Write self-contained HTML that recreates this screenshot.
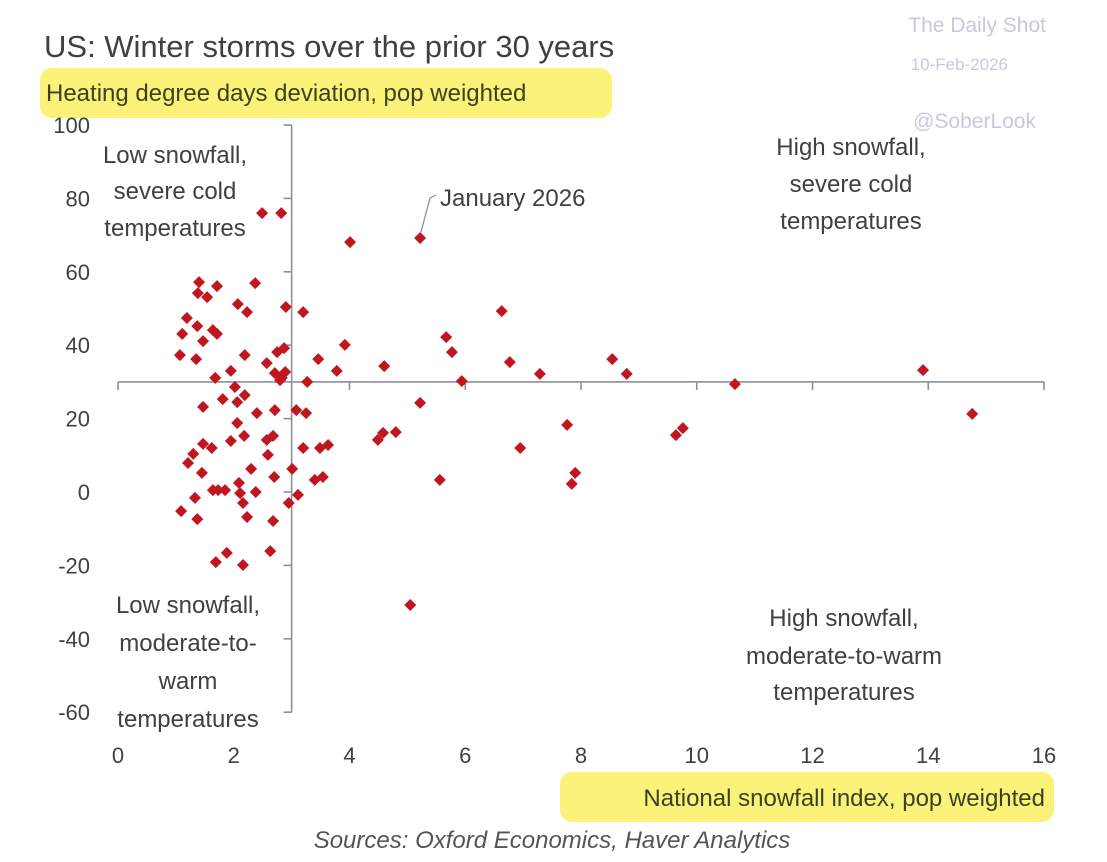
<!DOCTYPE html>
<html><head><meta charset="utf-8"><style>
body{margin:0;background:#fff;}
svg{display:block;font-family:"Liberation Sans",sans-serif;}
</style></head><body>
<svg id="c" width="1107" height="862" viewBox="0 0 1107 862">
<rect x="40" y="68" width="572" height="50" rx="12" fill="#fbf27a"/>
<rect x="560" y="772" width="494" height="50" rx="12" fill="#fbf27a"/>
<text x="44" y="57" font-size="31" fill="#404040">US: Winter storms over the prior 30 years</text>
<text x="46" y="101" font-size="24" fill="#404020">Heating degree days deviation, pop weighted</text>
<text x="1046" y="32" font-size="21" fill="#c8c8e0" text-anchor="end">The Daily Shot</text>
<text x="1008" y="70" font-size="17" fill="#c8c8e0" text-anchor="end">10-Feb-2026</text>
<text x="1036" y="128" font-size="21" fill="#c8c8e0" text-anchor="end">@SoberLook</text>
<g id="axes"></g>
<g id="pts"></g>
<g font-size="24" fill="#404040" text-anchor="middle">
<text x="175" y="163">Low snowfall,</text><text x="175" y="199">severe cold</text><text x="175" y="236">temperatures</text>
<text x="851" y="155">High snowfall,</text><text x="851" y="192">severe cold</text><text x="851" y="229">temperatures</text>
<text x="188" y="613">Low snowfall,</text><text x="188" y="651">moderate-to-</text><text x="188" y="689">warm</text><text x="188" y="727">temperatures</text>
<text x="844" y="626">High snowfall,</text><text x="844" y="664">moderate-to-warm</text><text x="844" y="700">temperatures</text>
</g>
<text x="440" y="206" font-size="24" fill="#404040">January 2026</text>
<polyline points="421,232 430,198 436,195" fill="none" stroke="#888" stroke-width="1.2"/>
<text x="1045" y="806" font-size="24" fill="#404020" text-anchor="end">National snowfall index, pop weighted</text>
<text x="552" y="848" font-size="24" font-style="italic" fill="#555" text-anchor="middle">Sources: Oxford Economics, Haver Analytics</text>
</svg>
<script>
const xTicks=[0,2,4,6,8,10,12,14,16];
const yTicks=[100,80,60,40,20,0,-20,-40,-60];
const snowfall=[2.49,2.82,4.01,1.40,1.71,2.37,1.38,1.54,2.07,2.23,2.90,3.20,1.19,1.37,1.11,1.64,1.71,1.47,3.92,1.07,1.35,2.19,2.57,2.75,2.87,3.46,3.78,1.95,1.68,2.71,2.89,2.83,3.27,2.02,2.80,1.81,2.19,2.06,1.47,2.40,2.71,3.08,3.25,2.06,2.18,1.95,1.47,1.62,2.57,2.68,3.20,3.49,3.63,1.30,1.21,2.59,1.45,2.30,2.70,3.01,3.40,3.54,1.73,1.85,1.64,2.09,2.11,2.38,1.33,2.16,3.11,2.95,1.09,1.37,2.23,2.68,2.63,1.88,1.69,2.16,5.22,4.60,4.49,4.58,4.80,5.22,5.05,5.56,5.67,5.77,5.94,6.63,6.77,6.95,7.29,7.76,7.90,7.84,8.54,8.79,9.64,9.76,10.66,13.91,14.76];
const hddDeviation=[76.0,76.0,68.1,57.2,56.1,56.9,54.2,53.1,51.2,49.0,50.4,49.0,47.4,45.2,43.1,44.1,43.1,41.1,40.1,37.3,36.2,37.3,35.1,38.1,39.2,36.2,33.0,33.0,31.1,32.4,32.7,31.1,30.0,28.6,30.5,25.3,26.4,24.5,23.2,21.5,22.3,22.3,21.5,18.8,15.3,13.9,13.1,12.0,14.2,15.3,12.0,12.0,12.8,10.4,7.9,10.1,5.2,6.3,4.1,6.3,3.3,4.1,0.5,0.5,0.5,2.5,-0.3,0,-1.6,-3.0,-0.8,-3.0,-5.2,-7.4,-6.8,-7.9,-16.1,-16.6,-19.1,-19.9,69.2,34.3,14.2,16.1,16.3,24.3,-30.8,3.3,42.2,38.1,30.2,49.3,35.4,12.0,32.2,18.3,5.2,2.2,36.2,32.2,15.5,17.4,29.4,33.2,21.3];
const NS='http://www.w3.org/2000/svg';
const X=v=>118+v*(1044-118)/16;
const Y=v=>492-v*(492-125)/100;
function mk(t,a,p){const e=document.createElementNS(NS,t);for(const k in a)e.setAttribute(k,a[k]);p.appendChild(e);return e;}
const ax=document.getElementById('axes');
const yAx=mk('line',{x1:X(3),x2:X(3),y1:Y(100),y2:Y(-60),stroke:'#8c9099','stroke-width':1.6},ax);


const xAx=mk('line',{x1:X(0),x2:X(16),y1:Y(30),y2:Y(30),stroke:'#8c9099','stroke-width':1.6},ax);


yTicks.forEach(v=>{
  const t=mk('line',{x1:X(3)-8,x2:X(3),y1:Y(v),y2:Y(v),stroke:'#8c9099','stroke-width':1.6},ax);
  
  
  const l=mk('text',{x:90,y:Y(v)+8,'font-size':22,fill:'#404040','text-anchor':'end'},ax);
  l.textContent=v;
  
  
});
xTicks.forEach(v=>{
  const t=mk('line',{x1:X(v),x2:X(v),y1:Y(30),y2:Y(30)+8,stroke:'#8c9099','stroke-width':1.6},ax);
  
  
  const l=mk('text',{x:X(v),y:763,'font-size':22,fill:'#404040','text-anchor':'middle'},ax);
  l.textContent=v;
  
  
});
const pg=document.getElementById('pts');
snowfall.forEach((s,i)=>{
  const cx=X(s),cy=Y(hddDeviation[i]),r=6;
  const p=mk('polygon',{points:`${cx},${cy-r} ${cx+r},${cy} ${cx},${cy+r} ${cx-r},${cy}`,fill:'#c0161f'},pg);
  
  
});
</script>
</body></html>
